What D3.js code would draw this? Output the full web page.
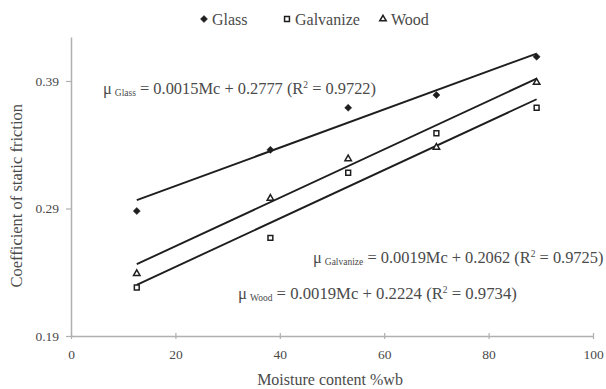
<!DOCTYPE html>
<html>
<head>
<meta charset="utf-8">
<script src="https://cdn.jsdelivr.net/npm/d3@7"></script>
<style>
  html, body { margin: 0; padding: 0; background: #fff; }
  svg { display: block; font-family: "Liberation Serif", "Times New Roman", serif; }
</style>
</head>
<body>
<svg id="chart" width="606" height="389"></svg>
<script>
// Moisture content (% w.b.) at which friction was measured
const moisture = [12.6, 38.2, 53.1, 70.0, 89.2];

// Coefficient of static friction on each surface
const glass     = [0.288, 0.336, 0.369, 0.379, 0.409];
const galvanize = [0.228, 0.267, 0.318, 0.349, 0.369];
const wood      = [0.239, 0.298, 0.329, 0.338, 0.389];

// Linear fits: slope, intercept, R²
const glassFit     = [0.0015, 0.2777, 0.9722];
const galvanizeFit = [0.0019, 0.2062, 0.9725];
const woodFit      = [0.0019, 0.2224, 0.9734];

const xTicks = [0, 20, 40, 60, 80, 100];
const yTicks = [0.19, 0.29, 0.39];

const svg = d3.select("#chart");
const textColor = "#4a4a4a";
const axisColor = "#b0b0b0";
const ink = "#1e1e1e";

const x = d3.scaleLinear().domain([0, 100]).range([71, 593]);
const y = d3.scaleLinear().domain([0.19, 0.4245]).range([336, 37]);

// Axes
const xAxis = d3.axisBottom(x).tickValues(xTicks).tickFormat(d3.format("d"))
  .tickSizeInner(4).tickSizeOuter(0).tickPadding(9);
const gx = svg.append("g").attr("transform", `translate(0,${y(0.19)})`).call(xAxis);
gx.selectAll(".tick line").attr("y1", -3).attr("y2", 3);

const yAxis = d3.axisLeft(y).tickValues(yTicks).tickFormat(d3.format(".2f"))
  .tickSizeInner(5).tickSizeOuter(0).tickPadding(7);
const gy = svg.append("g").attr("transform", `translate(${x(0)},0)`).call(yAxis);

[gx, gy].forEach(g => {
  g.select(".domain").attr("stroke", axisColor).attr("stroke-width", 1.5);
  g.selectAll(".tick line").attr("stroke", axisColor).attr("stroke-width", 1.2);
  g.selectAll(".tick text").attr("fill", textColor)
    .style("font-family", "Liberation Serif, serif").style("font-size", "13.5px");
});

// Axis titles
svg.append("text")
  .attr("x", 330).attr("y", 385)
  .attr("text-anchor", "middle")
  .attr("fill", textColor).style("font-size", "16px")
  .text("Moisture content %wb");

svg.append("text")
  .attr("transform", `translate(22,${y(0.3)}) rotate(-90)`)
  .attr("text-anchor", "middle")
  .attr("fill", textColor).style("font-size", "16.5px")
  .text("Coefficient of static friction");

// Marker shapes
const diamond  = d3.symbol().type(d3.symbolDiamond2).size(32);
const square   = d3.symbol().type(d3.symbolSquare2).size(30);
const triangle = d3.symbol().type(d3.symbolTriangle2).size(30);

const series = [
  { name: "Glass",     values: glass,     fit: glassFit,     shape: diamond,  filled: true },
  { name: "Galvanize", values: galvanize, fit: galvanizeFit, shape: square,   filled: false },
  { name: "Wood",      values: wood,      fit: woodFit,      shape: triangle, filled: false }
];

// Trend lines, drawn from each fitted equation across the measured range
const line = d3.line().x(d => x(d[0])).y(d => y(d[1]));
const xMin = d3.min(moisture), xMax = d3.max(moisture);
series.forEach(s => {
  const pts = [xMin, xMax].map(m => [m, s.fit[0] * m + s.fit[1]]);
  svg.append("path")
    .attr("d", line(pts))
    .attr("fill", "none")
    .attr("stroke", ink)
    .attr("stroke-width", 1.9);
});

// Data points
series.forEach(s => {
  svg.append("g").selectAll("path")
    .data(s.values.map((v, i) => [moisture[i], v]))
    .join("path")
    .attr("transform", d => `translate(${x(d[0])},${y(d[1])})`)
    .attr("d", s.shape())
    .attr("fill", s.filled ? ink : "#fff")
    .attr("stroke", ink)
    .attr("stroke-width", s.filled ? 0.5 : 1.5);
});

// Legend
const legendItems = [
  { s: series[0], x: 204 },
  { s: series[1], x: 287 },
  { s: series[2], x: 383 }
];
const legend = svg.append("g");
legendItems.forEach(item => {
  legend.append("path")
    .attr("transform", `translate(${item.x},19)`)
    .attr("d", item.s.shape())
    .attr("fill", item.s.filled ? ink : "#fff")
    .attr("stroke", ink)
    .attr("stroke-width", item.s.filled ? 0.5 : 1.5);
  legend.append("text")
    .attr("x", item.x + 8).attr("y", 25)
    .attr("fill", textColor).style("font-size", "16px")
    .text(item.s.name);
});

// Regression equation labels
const fmt4 = d3.format(".4f");
function equation(px, py, name, fit, size) {
  const t = svg.append("text").attr("x", px).attr("y", py)
    .attr("fill", textColor).style("font-size", size + "px");
  t.append("tspan").text("μ");
  t.append("tspan").attr("dx", 3).attr("dy", 2).style("font-size", "9.5px").text(name);
  t.append("tspan").attr("dy", -2)
    .text(` = ${fit[0]}Mc + ${fmt4(fit[1])} (R`);
  t.append("tspan").attr("dy", -6).style("font-size", "9.5px").text("2");
  t.append("tspan").attr("dy", 6).text(` = ${fmt4(fit[2])})`);
}
equation(103, 94, "Glass", glassFit, 16.4);
equation(313, 263, "Galvanize", galvanizeFit, 16.4);
equation(238, 299, "Wood", woodFit, 16.7);
</script>
</body>
</html>
